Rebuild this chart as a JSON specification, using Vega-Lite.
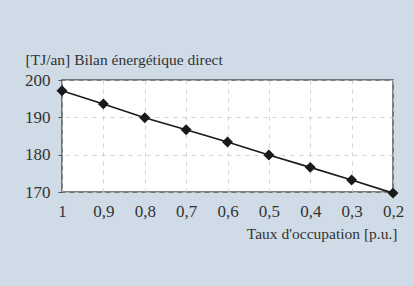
{
  "$schema": "https://vega.github.io/schema/vega-lite/v6.json",
  "width": 331,
  "height": 112,
  "autosize": {"type": "none"},
  "padding": {"left": 62, "top": 80, "right": 21, "bottom": 94},
  "background": "#cfdbe6",
  "config": {
    "view": {"fill": "#ffffff", "stroke": "#555555", "strokeWidth": 1.5},
    "font": "Times New Roman",
    "axis": {
      "labelFont": "Times New Roman",
      "titleFont": "Times New Roman",
      "labelColor": "#333333",
      "titleColor": "#333333",
      "titleFontWeight": "normal",
      "gridColor": "#c8c8c8",
      "gridDash": [4, 5],
      "gridWidth": 0.8,
      "domain": false
    }
  },
  "data": {
    "values": [
      {"taux": 1.0, "bilan": 197.1},
      {"taux": 0.9, "bilan": 193.6},
      {"taux": 0.8, "bilan": 189.9},
      {"taux": 0.7, "bilan": 186.7},
      {"taux": 0.6, "bilan": 183.4},
      {"taux": 0.5, "bilan": 179.9},
      {"taux": 0.4, "bilan": 176.6},
      {"taux": 0.3, "bilan": 173.2},
      {"taux": 0.2, "bilan": 169.7}
    ]
  },
  "encoding": {
    "x": {
      "field": "taux",
      "type": "quantitative",
      "scale": {"domain": [0.2, 1], "reverse": true, "nice": false, "zero": false},
      "axis": {
        "values": [1, 0.9, 0.8, 0.7, 0.6, 0.5, 0.4, 0.3, 0.2],
        "format": "~g",
        "labelExpr": "replace(datum.label, '.', ',')",
        "labelFont": "Times New Roman",
        "labelFontSize": 17,
        "ticks": false,
        "labelPadding": 11,
        "labelFlush": false,
        "title": "Taux d'occupation [p.u.]",
        "titleFont": "Times New Roman",
        "titleFontSize": 15.5,
        "titleAnchor": null,
        "titleAlign": "right",
        "titleBaseline": "alphabetic",
        "titleX": 335,
        "titleY": 46,
        "grid": true
      }
    },
    "y": {
      "field": "bilan",
      "type": "quantitative",
      "scale": {"domain": [170, 200], "nice": false, "zero": false},
      "axis": {
        "values": [170, 180, 190, 200],
        "labelFont": "Times New Roman",
        "labelFontSize": 17,
        "ticks": true,
        "tickSize": 4,
        "tickColor": "#555555",
        "labelPadding": 8,
        "labelFlush": false,
        "title": "[TJ/an] Bilan énergétique direct",
        "titleFont": "Times New Roman",
        "titleFontSize": 15.5,
        "titleAngle": 0,
        "titleAlign": "left",
        "titleBaseline": "alphabetic",
        "titleAnchor": null,
        "titleX": -37,
        "titleY": -16,
        "grid": true
      }
    }
  },
  "layer": [
    {"mark": {"type": "line", "color": "#1a1a1a", "strokeWidth": 1.6}},
    {"mark": {"type": "point", "shape": "diamond", "filled": true, "color": "#1a1a1a", "size": 120, "opacity": 1}}
  ]
}
